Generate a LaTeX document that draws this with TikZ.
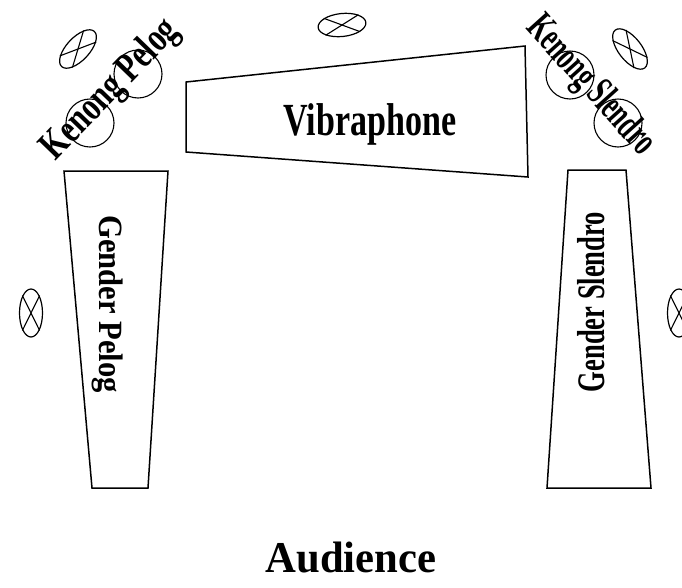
\documentclass[tikz,border=0pt]{standalone}
\usepackage{fontspec}
\setmainfont{Liberation Serif}
\usepackage{graphicx}
\usetikzlibrary{shapes.geometric}

% condensed bold label text: size, horizontal squeeze, text
\newcommand{\cond}[3]{\fontsize{#1}{#1}\selectfont\bfseries\scalebox{#2}[1]{#3}}

\begin{document}
\begin{tikzpicture}[x=1pt,y=-1pt,
  outline/.style={draw=black, line width=1.5pt, line join=miter},
  lbl/.style={inner sep=0pt, outer sep=0pt},
  speaker/.style={ellipse, draw=black, line width=1.2pt, inner sep=0pt,
                  minimum width=48pt, minimum height=23pt},
  gong/.style={circle, draw=black, line width=1.1pt, inner sep=0pt, minimum size=48pt}]

\useasboundingbox (0,0) rectangle (682,587);

% instrument outlines
\coordinate (v1) at (186,82);  \coordinate (v2) at (525,46);
\coordinate (v3) at (528,177); \coordinate (v4) at (186,152);
\draw[outline] (v1) -- (v2) -- (v3) -- (v4) -- cycle;

\coordinate (p1) at (64,171);  \coordinate (p2) at (168,171);
\coordinate (p3) at (148,488); \coordinate (p4) at (92,488);
\draw[outline] (p1) -- (p2) -- (p3) -- (p4) -- cycle;

\coordinate (s1) at (568,170); \coordinate (s2) at (626,170);
\coordinate (s3) at (651,488); \coordinate (s4) at (547,488);
\draw[outline] (s1) -- (s2) -- (s3) -- (s4) -- cycle;

% kenong gongs
\node[gong] (kp1) at (90,123) {};
\node[gong] (kp2) at (138,74) {};
\node[gong] (ks1) at (570,75) {};
\node[gong] (ks2) at (618,123) {};

% loudspeakers
\node[speaker, rotate=6]   (spt) at (342,25) {};
\node[speaker, rotate=90]  (spl) at (31,313) {};
\node[speaker, rotate=90]  (spr) at (679,313) {};
\node[speaker, rotate=47]  (spkl) at (78,49) {};
\node[speaker, rotate=-52] (spkr) at (630,49) {};
\foreach \s in {spt,spl,spr,spkl,spkr}{
  \draw[line width=1.1pt] (\s.north east) -- (\s.south west);
  \draw[line width=1.1pt] (\s.north west) -- (\s.south east);
}

% labels
\node[lbl] (vib) at (370,124) {\cond{46}{0.74}{Vibraphone}};
\node[lbl, rotate=-90] (gp) at (108,304) {\cond{34}{0.90}{Gender Pelog}};
\node[lbl, rotate=90]  (gs) at (591,302) {\cond{39}{0.68}{Gender Slendro}};
\node[lbl, rotate=46]  (kp) at (111,90) {\cond{41}{0.74}{Kenong Pelog}};
\node[lbl, rotate=-48] (ks) at (590,86) {\cond{41}{0.61}{Kenong Slendro}};
\node[lbl] (aud) at (351,557) {\cond{44}{0.97}{Audience}};

\end{tikzpicture}
\end{document}
